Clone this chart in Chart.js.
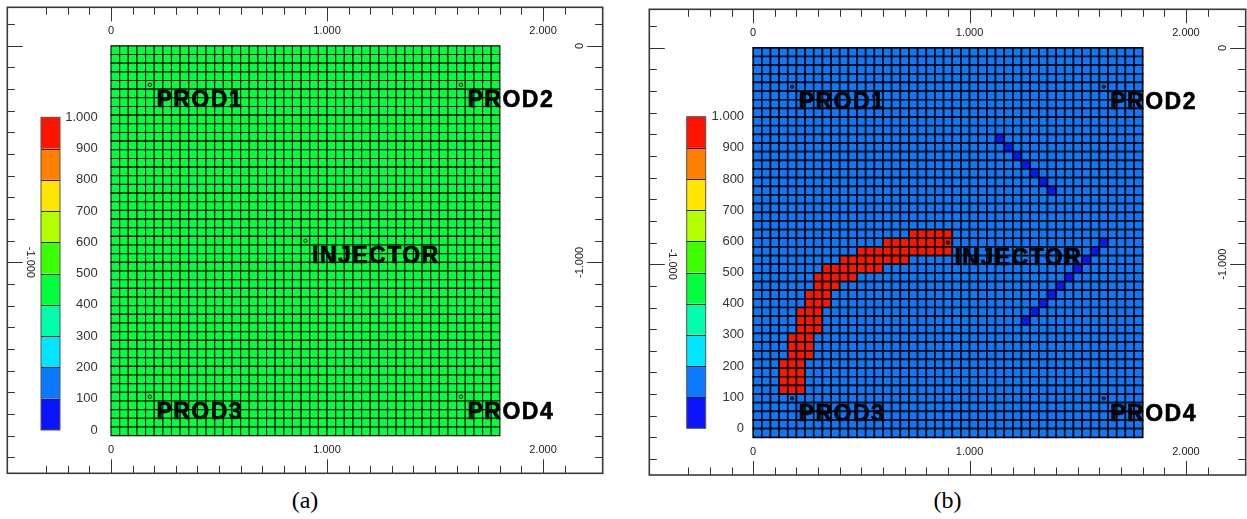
<!DOCTYPE html>
<html>
<head>
<meta charset="utf-8">
<script src="https://cdn.jsdelivr.net/npm/chart.js@4.4.1/dist/chart.umd.min.js"></script>
<style>
  html, body { margin: 0; padding: 0; background: #fff; }
  #page { position: relative; width: 1247px; height: 519px; overflow: hidden; background: #fff; }
  .panel { position: absolute; }
  .panel canvas { display: block; }
  .caption {
    position: absolute; width: 60px; text-align: center;
    font-family: 'Liberation Serif', 'Times New Roman', serif;
    font-size: 24px; line-height: 24px; color: #000;
  }
</style>
</head>
<body>
<div id="page">
  <div class="panel" style="left:6px;top:6px;"><canvas id="mapA" width="598" height="469"></canvas></div>
  <div class="panel" style="left:648px;top:8px;"><canvas id="mapB" width="599" height="468"></canvas></div>
  <div class="caption" style="left:275px;top:488px;">(a)</div>
  <div class="caption" style="left:917.5px;top:488px;">(b)</div>
</div>
<script>
// ---- grid geometry -------------------------------------------------------
const GRID_COLS = 45;
const GRID_ROWS = 45;
const CELL_SIZE = 40;            // metres per cell

// ---- map extents (metres) ------------------------------------------------
const xExtent = [-480, 2276];
const yExtent = [-1974, 178];

// ---- axis tick labels ----------------------------------------------------
const xAxisLabelValues = [0, 1000, 2000];
const rightAxisLabelValues = [0, -1000];
const leftAxisLabelValues = [-1000];

// ---- colour key ----------------------------------------------------------
const legendLevels = [0, 100, 200, 300, 400, 500, 600, 700, 800, 900, 1000];
const legendLabels = ['0', '100', '200', '300', '400', '500', '600', '700', '800', '900', '1.000'];
const legendColors = ['#0a14ff', '#0a78ff', '#00e6ff', '#00ffaa', '#00ff3c',
                      '#3cff00', '#b4ff00', '#ffe600', '#ff8000', '#ff1400'];

// ---- wells ---------------------------------------------------------------
const wellNames = ['PROD1', 'PROD2', 'INJECTOR', 'PROD3', 'PROD4'];
const wellX = [180, 1620, 900, 180, 1620];
const wellY = [-180, -180, -900, -1620, -1620];

// ---- cell values ---------------------------------------------------------
const baseValueA = 450;          // uniform field, map (a)
const baseValueB = 150;          // background field, map (b)

// high-value channel in map (b): one run of columns per row
const channelRows     = [21, 22, 23, 24, 25, 26, 27, 28, 29, 30, 31, 32, 33, 34, 35, 36, 37, 38, 39];
const channelColStart = [18, 15, 12, 10,  8,  7,  7,  6,  6,  5,  5,  5,  4,  4,  4,  3,  3,  3,  3];
const channelColEnd   = [22, 22, 22, 17, 14, 11,  9,  8,  8,  7,  7,  7,  6,  6,  6,  5,  5,  5,  5];
const channelValue = 950;

// low-value cells in map (b)
const lowCols = [28, 29, 30, 31, 32, 33, 34, 40, 39, 38, 37, 36, 35, 34, 33, 32, 31];
const lowRows = [10, 11, 12, 13, 14, 15, 16, 22, 23, 24, 25, 26, 27, 28, 29, 30, 31];
const lowValue = 50;

// ---- helpers -------------------------------------------------------------
function colorFor(v) {
  let bin = 0;
  while (bin < legendColors.length - 1 && v >= legendLevels[bin + 1]) bin++;
  return legendColors[bin];
}

function buildCells(base, overrides) {
  const cells = [];
  for (let r = 0; r < GRID_ROWS; r++) {
    for (let c = 0; c < GRID_COLS; c++) {
      const key = r * GRID_COLS + c;
      cells.push({
        x: (c + 0.5) * CELL_SIZE,
        y: -(r + 0.5) * CELL_SIZE,
        v: overrides.has(key) ? overrides.get(key) : base
      });
    }
  }
  return cells;
}

const overridesA = new Map();
const overridesB = new Map();
channelRows.forEach((r, i) => {
  for (let c = channelColStart[i]; c <= channelColEnd[i]; c++) overridesB.set(r * GRID_COLS + c, channelValue);
});
lowRows.forEach((r, i) => overridesB.set(r * GRID_COLS + lowCols[i], lowValue));

function fmtThousands(v) {
  const s = String(Math.abs(Math.round(v))).replace(/\B(?=(\d{3})+(?!\d))/g, '.');
  return (v < 0 ? '-' : '') + s;
}

function tickValues(scale, step) {
  let vals = (scale.ticks || []).map(t => t.value).filter(v => Math.abs(v % step) < 1e-6);
  if (!vals.length) {
    for (let v = Math.ceil(scale.min / step) * step; v <= scale.max; v += step) vals.push(v);
  }
  return vals;
}

// ---- frame, inward ticks, tick labels and colour key ---------------------
const mapFrame = {
  id: 'mapFrame',
  afterDraw(chart, args, opts) {
    const { ctx, chartArea: a, scales: { x, y } } = chart;
    const MAJOR = 14, MINOR = 7.5;
    ctx.save();

    // inward tick marks on all four sides
    ctx.strokeStyle = '#333';
    ctx.lineWidth = 1;
    ctx.beginPath();
    tickValues(x, 100).forEach(v => {
      const px = Math.round(x.getPixelForValue(v)) + 0.5;
      const len = Math.abs(v % 1000) < 1e-6 ? MAJOR : MINOR;
      ctx.moveTo(px, a.top); ctx.lineTo(px, a.top + len);
      ctx.moveTo(px, a.bottom); ctx.lineTo(px, a.bottom - len);
    });
    tickValues(y, 100).forEach(v => {
      const py = Math.round(y.getPixelForValue(v)) + 0.5;
      const len = Math.abs(v % 1000) < 1e-6 ? MAJOR + 1.5 : MINOR;
      ctx.moveTo(a.left, py); ctx.lineTo(a.left + len, py);
      ctx.moveTo(a.right, py); ctx.lineTo(a.right - len, py);
    });
    ctx.stroke();

    // outer frame
    ctx.strokeStyle = '#3a3a3a';
    ctx.lineWidth = 1.6;
    ctx.strokeRect(a.left, a.top, a.right - a.left, a.bottom - a.top);

    // tick labels
    ctx.fillStyle = '#222';
    ctx.font = '11px Arial, "Liberation Sans", sans-serif';
    ctx.textAlign = 'center';
    ctx.textBaseline = 'middle';
    xAxisLabelValues.forEach(v => {
      const px = x.getPixelForValue(v);
      ctx.fillText(fmtThousands(v), px, a.top + 23.5);
      ctx.fillText(fmtThousands(v), px, a.bottom - 23);
    });
    rightAxisLabelValues.forEach(v => {
      ctx.save();
      ctx.translate(a.right - 23, y.getPixelForValue(v));
      ctx.rotate(-Math.PI / 2);
      ctx.fillText(fmtThousands(v), 0, 0);
      ctx.restore();
    });
    leftAxisLabelValues.forEach(v => {
      ctx.save();
      ctx.translate(a.left + 23, y.getPixelForValue(v));
      ctx.rotate(Math.PI / 2);
      ctx.fillText(fmtThousands(v), 0, 0);
      ctx.restore();
    });

    // colour key
    const k = opts.key;
    const kx = a.left + k.dx, ky = a.top + k.dy;
    const bins = legendColors.length;
    const bh = k.h / bins;
    for (let i = 0; i < bins; i++) {
      const top = ky + k.h - (i + 1) * bh;
      ctx.fillStyle = legendColors[i];
      ctx.fillRect(kx, top, k.w, bh);
    }
    ctx.strokeStyle = '#222';
    ctx.lineWidth = 1;
    ctx.beginPath();
    for (let i = 1; i < bins; i++) {
      const yy = Math.round(ky + i * bh) + 0.5;
      ctx.moveTo(kx, yy); ctx.lineTo(kx + k.w, yy);
    }
    ctx.stroke();
    ctx.strokeStyle = '#555';
    ctx.strokeRect(kx, ky, k.w, k.h);

    ctx.fillStyle = '#333';
    ctx.font = '13px Arial, "Liberation Sans", sans-serif';
    ctx.textAlign = 'right';
    ctx.textBaseline = 'middle';
    legendLabels.forEach((lab, i) => {
      ctx.fillText(lab, a.left + k.labelX, ky + k.h - i * bh);
    });
    ctx.restore();
  }
};

// ---- well names ------------------------------------------------------------
const wellLabels = {
  id: 'wellLabels',
  afterDatasetsDraw(chart) {
    const { ctx, scales: { x, y } } = chart;
    ctx.save();
    ctx.fillStyle = '#000';
    ctx.strokeStyle = '#000';
    ctx.lineWidth = 0.6;
    ctx.font = 'bold 23px Arial, "Liberation Sans", sans-serif';
    if ('letterSpacing' in ctx) ctx.letterSpacing = '1.5px';
    ctx.textAlign = 'left';
    ctx.textBaseline = 'alphabetic';
    wellNames.forEach((name, i) => {
      const px = x.getPixelForValue(wellX[i]) + 6.5;
      const py = y.getPixelForValue(wellY[i]) + 22.5;
      ctx.fillText(name, px, py);
      ctx.strokeText(name, px, py);
    });
    ctx.restore();
  }
};

function cellRadius(ctx) {
  const s = ctx.chart.scales.x;
  return Math.abs(s.getPixelForValue(CELL_SIZE) - s.getPixelForValue(0)) / Math.SQRT2;
}

function makeMap(canvasId, cells, gridLineWidth, wellFill, padding, key) {
  return new Chart(document.getElementById(canvasId), {
    type: 'scatter',
    data: {
      datasets: [
        {
          label: 'wells',
          order: 0,
          data: wellX.map((wx, i) => ({ x: wx, y: wellY[i] })),
          pointStyle: 'circle',
          pointRadius: 1.7,
          pointHoverRadius: 1.7,
          pointBackgroundColor: wellFill,
          pointBorderColor: '#111',
          pointBorderWidth: 1
        },
        {
          label: 'cells',
          order: 1,
          data: cells,
          pointStyle: 'rect',
          pointRadius: cellRadius,
          pointHoverRadius: cellRadius,
          pointBackgroundColor: c => colorFor(c.raw.v),
          pointBorderColor: '#0a0a0a',
          pointBorderWidth: gridLineWidth,
          pointHoverBorderWidth: gridLineWidth
        }
      ]
    },
    options: {
      responsive: false,
      animation: false,
      events: [],
      layout: { padding, autoPadding: false },
      scales: {
        x: { type: 'linear', min: xExtent[0], max: xExtent[1], display: false,
             ticks: { stepSize: 100, autoSkip: false } },
        y: { type: 'linear', min: yExtent[0], max: yExtent[1], display: false,
             ticks: { stepSize: 100, autoSkip: false } }
      },
      plugins: {
        legend: { display: false },
        tooltip: { enabled: false },
        mapFrame: { key }
      }
    },
    plugins: [wellLabels, mapFrame]
  });
}

makeMap('mapA', buildCells(baseValueA, overridesA), 1.1, 'rgba(0,0,0,0)',
  { left: 1.3, top: 1.3, right: 1.3, bottom: 1.7 },
  { dx: 33.7, dy: 110, w: 19, h: 312.7, labelX: 90.5 });

makeMap('mapB', buildCells(baseValueB, overridesB), 1.7, '#1a2a55',
  { left: 1.3, top: 1.3, right: 1.3, bottom: 1.0 },
  { dx: 37.4, dy: 107.4, w: 19, h: 311.6, labelX: 94.8 });
</script>
</body>
</html>
